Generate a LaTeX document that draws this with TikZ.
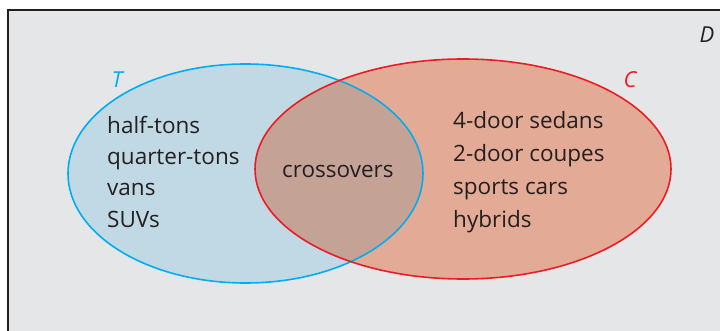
\documentclass[tikz,border=0pt]{standalone}
\usepackage{fontspec}
\setmainfont{Open Sans}
\definecolor{bgray}{HTML}{E5E6E8}
\definecolor{tfill}{HTML}{C1D9E4}
\definecolor{tline}{HTML}{00AEEF}
\definecolor{cfill}{HTML}{E3AB96}
\definecolor{cline}{HTML}{ED1C24}
\definecolor{bothfill}{HTML}{C4A296}
\definecolor{frame}{HTML}{231F20}
\begin{document}
\begin{tikzpicture}[x=1pt,y=-1pt,
  item/.style={anchor=base west,inner sep=0pt,font=\fontsize{22.5}{26}\selectfont,text=frame},
  setlabel/.style={inner sep=0pt,font=\fontsize{22}{26}\selectfont\itshape}]
\useasboundingbox (0,0) rectangle (720,331);
\clip (0,0) rectangle (720,331);
\draw[line width=2pt,draw=frame,fill=bgray] (8,10) rectangle (740,350);
% sets
\fill[tfill] (245.5,173.5) ellipse [x radius=177.5,y radius=109.5];
\fill[cfill] (463,169) ellipse [x radius=208,y radius=110];
\begin{scope}
\clip (245.5,173.5) ellipse [x radius=177.5,y radius=109.5];
\fill[bothfill] (463,169) ellipse [x radius=208,y radius=110];
\end{scope}
\draw[line width=1.6pt,tline] (245.5,173.5) ellipse [x radius=177.5,y radius=109.5];
\draw[line width=1.6pt,cline] (463,169) ellipse [x radius=208,y radius=110];
% labels
\node[setlabel,text=tline] (T) at (117,80) {T};
\node[setlabel,text=cline] (C) at (630,80) {C};
\node[setlabel,text=frame] (D) at (707,35) {D};
% T only
\node[item] (t1) at (107,134) {half-tons};
\node[item] (t2) at (107,165) {quarter-tons};
\node[item] (t3) at (107,196) {vans};
\node[item] (t4) at (107,227) {SUVs};
% both
\node[item] (b1) at (282,178) {crossovers};
% C only
\node[item] (c1) at (453,129) {4-door sedans};
\node[item] (c2) at (453,162) {2-door coupes};
\node[item] (c3) at (453,195) {sports cars};
\node[item] (c4) at (453,228) {hybrids};
\end{tikzpicture}
\end{document}
